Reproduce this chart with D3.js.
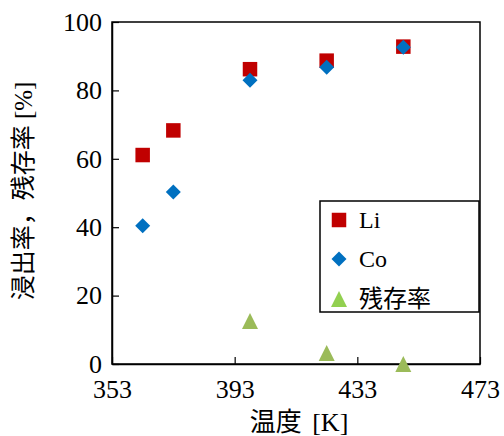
<!DOCTYPE html>
<html><head><meta charset="utf-8">
<script src="https://cdn.jsdelivr.net/npm/d3@7"></script>
<style>
body{margin:0;background:#fff;}
svg{display:block;}
</style></head>
<body><svg id="c" width="504" height="436"></svg>
<script>
const temps = [363, 373, 398, 423, 448];
const liValues = [61.1, 68.3, 86.2, 88.7, 92.8];
const coValues = [40.4, 50.3, 83.0, 86.8, 92.6];
const residualTemps = [398, 423, 448];
const residualValues = [12.6, 3.2, 0];
const xTicks = [353, 393, 433, 473];
const yTicks = [0, 20, 40, 60, 80, 100];
const seriesNames = ["Li", "Co", "残存率"];

const SERIF = "'Liberation Serif'";
const MIXED = "'Liberation Serif', 'Noto Sans CJK JP'";
const svg = d3.select("#c");
const L = 112, R = 480, T = 22, B = 364;
const x = d3.scaleLinear().domain([353, 473]).range([L, R]);
const y = d3.scaleLinear().domain([0, 100]).range([B, T]);

svg.append("rect").attr("x", L).attr("y", T).attr("width", R - L).attr("height", B - T)
  .attr("fill", "none").attr("stroke", "#000").attr("stroke-width", 1.5);

const yAxis = svg.append("g").attr("transform", `translate(${L},0)`)
  .call(d3.axisLeft(y).tickValues(yTicks).tickSizeInner(-7).tickSizeOuter(0).tickPadding(10));
yAxis.attr("font-family", SERIF).attr("font-size", 26);
const xAxis = svg.append("g").attr("transform", `translate(0,${B})`)
  .call(d3.axisBottom(x).tickValues(xTicks).tickFormat(d3.format("d")).tickSizeInner(-7).tickSizeOuter(0).tickPadding(16));
xAxis.attr("font-family", SERIF).attr("font-size", 26);
svg.selectAll(".domain").attr("stroke-width", 1.5);
svg.selectAll(".tick line").attr("stroke-width", 1.2);

svg.append("text").attr("x", 299).attr("y", 431).attr("text-anchor", "middle")
  .attr("font-family", MIXED).attr("font-size", 26).attr("word-spacing", 4).text("温度 [K]");
svg.append("text").attr("transform", `translate(32,191) rotate(-90)`).attr("text-anchor", "middle")
  .attr("font-family", MIXED).attr("font-size", 25).text("浸出率，残存率 [%]");

const sq = d3.symbol().type(d3.symbolSquare).size(14.5 * 14.5);
const diamond = (cx, cy, r) => `M${cx},${cy - r}L${cx + r},${cy}L${cx},${cy + r}L${cx - r},${cy}Z`;
const tri = (cx, cy, w, h) => `M${cx},${cy - h / 2}L${cx + w / 2},${cy + h / 2}L${cx - w / 2},${cy + h / 2}Z`;

svg.append("g").selectAll("path").data(temps).join("path")
  .attr("d", sq).attr("transform", (d, i) => `translate(${x(d)},${y(liValues[i])})`)
  .attr("fill", "#C00000");
svg.append("g").selectAll("path").data(temps).join("path")
  .attr("d", (d, i) => diamond(x(d), y(coValues[i]), 7.5)).attr("fill", "#0070C0");
svg.append("g").selectAll("path").data(residualTemps).join("path")
  .attr("d", (d, i) => tri(x(d), y(residualValues[i]), 16, 16)).attr("fill", "#9BBB59");

const lg = svg.append("g");
lg.append("rect").attr("x", 320).attr("y", 201).attr("width", 159).attr("height", 111)
  .attr("fill", "#fff").attr("stroke", "#000").attr("stroke-width", 1.5);
const ly = [220, 259, 299];
lg.append("path").attr("d", sq).attr("transform", `translate(339,${ly[0]})`).attr("fill", "#C00000");
lg.append("path").attr("d", diamond(339, ly[1], 7.5)).attr("fill", "#0070C0");
lg.append("path").attr("d", tri(339, ly[2], 16, 16)).attr("fill", "#92D050");
seriesNames.forEach((n, i) => {
  lg.append("text").attr("x", 359).attr("y", ly[i] + 8).attr("font-family", i === 2 ? MIXED : SERIF).attr("font-size", 24).text(n);
});
</script></body></html>
